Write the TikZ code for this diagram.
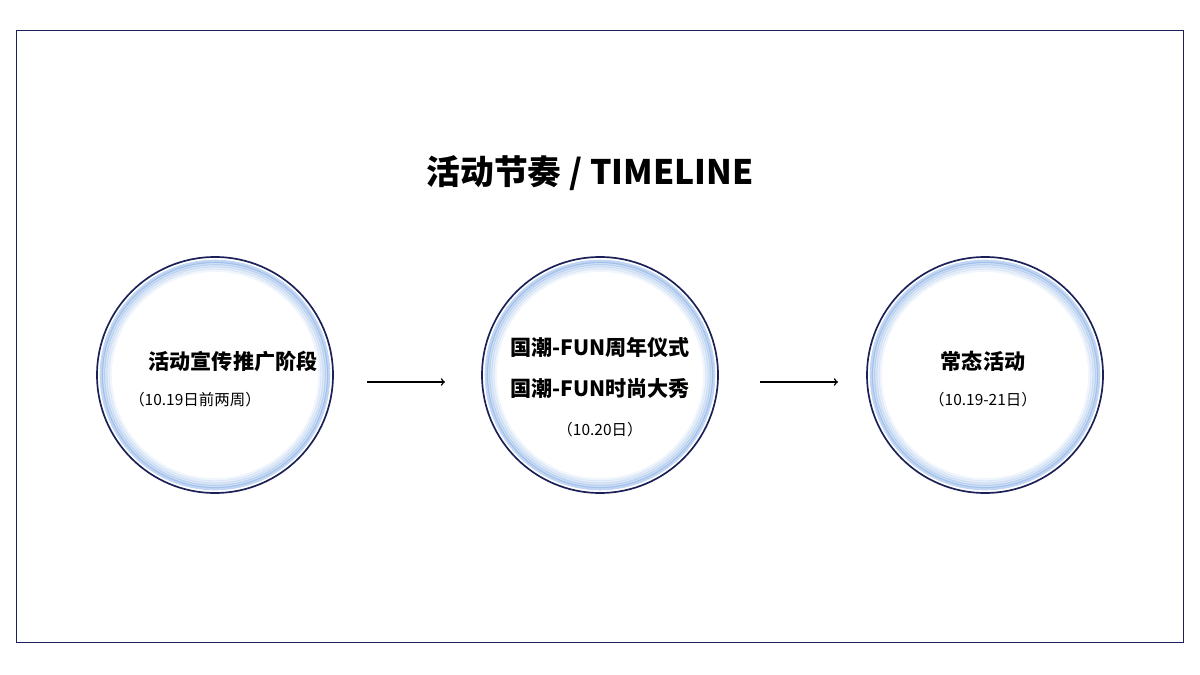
\documentclass[tikz,border=0pt]{standalone}
\usepackage{fontspec}
\setmainfont{Noto Sans CJK SC}
\usetikzlibrary{positioning,arrows}
\definecolor{navy}{HTML}{1B2057}
\definecolor{glow}{HTML}{4A86D8}
\begin{document}
\begin{tikzpicture}[x=0.025cm,y=-0.025cm,
    stage/.style={circle,draw=navy,line width=1.2pt,minimum size=236*0.025cm,inner sep=0pt},
    big/.style={font=\fontsize{15}{18}\selectfont\bfseries},
    small/.style={font=\fontsize{11}{13}\selectfont}]

    \useasboundingbox (0,0) rectangle (1200,675);
    \draw[navy,line width=0.6pt] (16,30) rectangle (1183,642);

    \node[font=\fontsize{24}{28}\selectfont\bfseries] (title) at (590,173) {活动节奏 / TIMELINE};

    % glow rings
    \foreach \cx in {215,600,985}{
        \foreach \r/\o in {6/0.08,5/0.12,4/0.18,3/0.25,2/0.35}
            \draw[glow,opacity=\o,line width=2.4pt] (\cx,375) circle ({(118-\r*2.2)*0.025cm});
    }
    \node[stage] (s1) at (215,375) {};
    \node[stage] (s2) at (600,375) {};
    \node[stage] (s3) at (985,375) {};

    \node[big] (t1) at (233,361) {活动宣传推广阶段};
    \node[small] (d1) at (195,400) {（10.19日前两周）};
    \node[big] (t2a) at (600,347) {国潮-FUN周年仪式};
    \node[big] (t2b) at (600,389) {国潮-FUN时尚大秀};
    \node[small] (d2) at (600,430) {（10.20日）};
    \node[big] (t3) at (983,361) {常态活动};
    \node[small] (d3) at (983,400) {（10.19-21日）};

    \coordinate (a1) at (367,382);
    \coordinate (b1) at (445,382);
    \coordinate (a2) at (760,382);
    \coordinate (b2) at (838,382);
    \draw[->,line width=1pt] (a1) -- (b1);
    \draw[->,line width=1pt] (a2) -- (b2);
\end{tikzpicture}
\end{document}
